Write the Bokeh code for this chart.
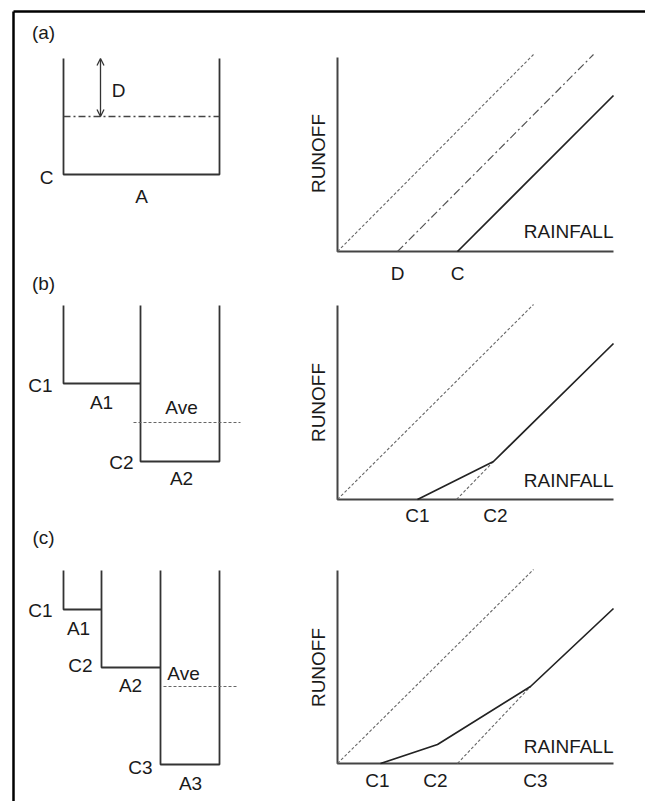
import math
from bokeh.plotting import figure
from bokeh.models import Arrow, OpenHead
from bokeh.core.properties import value
from bokeh.embed import file_html
from bokeh.resources import INLINE

W, H = 645, 801
FONT = "Liberation Sans"

# ---------------- frame ----------------
frame_x = [[13, 645], [13, 13]]
frame_y = [[11, 11], [11, 801]]

# ---------------- tanks (left diagrams) ----------------
tank_x = [
    [63, 63, 219, 219],                        # (a)
    [63, 63, 140], [140, 140, 219, 219],      # (b)
    [63, 63, 101], [101, 101, 160], [160, 160, 219, 219],  # (c)
]
tank_y = [
    [58, 174, 174, 58],
    [305, 383, 383], [305, 461, 461, 305],
    [570, 609, 609], [570, 667, 667], [570, 764, 764, 570],
]

# depth line in (a) (dash-dot)
depth_x = [63, 219]
depth_y = [116, 116]
# arrow D
arrow_x = [100, 100]
arrow_y = [58, 116]

# average level lines (dashed)
ave_x = [[133, 240], [163, 236]]
ave_y = [[422, 422], [686, 686]]

# ---------------- runoff plots (right diagrams) ----------------
axes_x = [[337, 337, 613], [337, 337, 613], [337, 337, 613]]
axes_y = [[57, 251, 251], [305, 499, 499], [570, 763, 763]]

# 1:1 lines (dashed)
oneone_x = [[337, 533], [337, 533], [337, 533], [456, 493], [457, 530]]
oneone_y = [[251, 54], [499, 304], [763, 569], [499, 461], [763, 686]]

# (a) dash-dot line starting at D
dd_x = [397, 593]
dd_y = [251, 54]

# solid runoff curves
run_x = [[457, 613], [417, 493, 613], [380, 437, 530, 613]]
run_y = [[251, 95], [499, 461, 343], [763, 744, 686, 608]]

# ---------------- texts ----------------
lab_text = ["(a)", "(b)", "(c)",
            "D", "C", "A",
            "C1", "A1", "Ave", "C2", "A2",
            "C1", "A1", "C2", "A2", "Ave", "C3", "A3",
            "D", "C", "C1", "C2", "C1", "C2", "C3"]
lab_x = [43, 43, 43,
         118, 46, 141,
         40, 101, 181, 121, 181,
         40, 78, 80, 130, 183, 140, 190,
         397, 457, 417, 495, 377, 435, 535]
lab_y = [32, 283, 537,
         90, 177, 196,
         385, 402, 407, 462, 478,
         610, 628, 665, 685, 673, 767, 783,
         273, 273, 515, 515, 780, 780, 780]

runoff_x = [318, 318, 318]
runoff_y = [153, 402, 667]
rain_x = [613, 613, 613]
rain_y = [231, 480, 746]

p = figure(width=W, height=H, x_range=(0, W), y_range=(H, 0),
           output_backend="svg", toolbar_location=None, min_border=0)
p.axis.visible = False
p.grid.visible = False
p.outline_line_color = None
p.border_fill_color = "white"
p.background_fill_color = "white"

p.multi_line(frame_x, frame_y, line_color="black", line_width=2.5)
p.multi_line(tank_x, tank_y, line_color="#333333", line_width=1.8)
p.line(depth_x, depth_y, line_color="#444444", line_width=1.4, line_dash="7 3 2 3")
p.add_layout(Arrow(start=OpenHead(size=7, line_width=1.3, line_color="#333333"),
                   end=OpenHead(size=7, line_width=1.3, line_color="#333333"),
                   x_start=arrow_x[0], y_start=arrow_y[0], x_end=arrow_x[1], y_end=arrow_y[1],
                   line_width=1.3, line_color="#333333"))
p.multi_line(ave_x, ave_y, line_color="#666666", line_width=1.1, line_dash="3 2")

p.multi_line(axes_x, axes_y, line_color="#444444", line_width=2)
p.multi_line(oneone_x, oneone_y, line_color="#666666", line_width=1.1, line_dash="3 2")
p.line(dd_x, dd_y, line_color="#555555", line_width=1.2, line_dash="8 3 2 3")
p.multi_line(run_x, run_y, line_color="#222222", line_width=1.7)

p.text(lab_x, lab_y, text=lab_text, text_font=value(FONT), text_font_size="19px",
       text_align="center", text_baseline="middle", text_color="#1a1a1a")
p.text(runoff_x, runoff_y, text=["RUNOFF"] * 3, angle=math.pi / 2,
       text_font=value(FONT), text_font_size="19px",
       text_align="center", text_baseline="middle", text_color="#1a1a1a")
p.text(rain_x, rain_y, text=["RAINFALL"] * 3,
       text_font=value(FONT), text_font_size="19px",
       text_align="right", text_baseline="middle", text_color="#1a1a1a")

open("out.html", "w").write(file_html(p, INLINE))
